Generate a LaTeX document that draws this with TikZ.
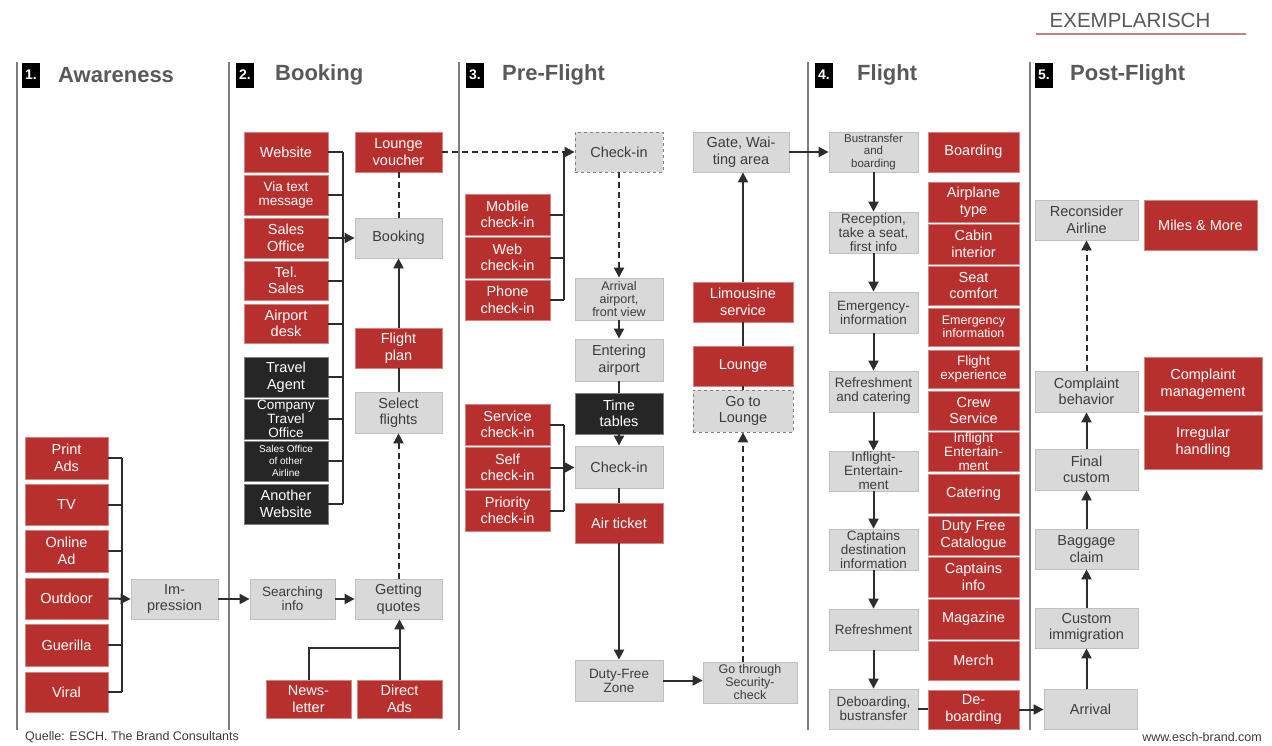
\documentclass[tikz,border=0pt]{standalone}
\usepackage{fontspec}
\setmainfont{Liberation Sans}
\usetikzlibrary{arrows.meta}
\definecolor{boxred}{RGB}{184,48,45}
\definecolor{boxgray}{RGB}{217,217,217}
\definecolor{boxgrayline}{RGB}{192,192,192}
\definecolor{boxdark}{RGB}{38,38,38}
\definecolor{txtgray}{RGB}{60,60,60}
\definecolor{hdrgray}{RGB}{89,89,89}
\definecolor{linecol}{RGB}{45,45,45}
\definecolor{sepcol}{RGB}{125,125,125}
\definecolor{ulred}{RGB}{190,130,130}
\newcommand\mybox[7]{\node[#1,minimum width=#4pt-#2pt,minimum height=#5pt-#3pt] (#6) at ({(#2+#4)/2},{(#3+#5)/2}) {#7};}
\tikzset{
 base/.style={inner sep=0pt, align=center, font=\fontsize{14.5}{16.5}\selectfont},
 gbox/.style={base, fill=boxgray, draw=boxgrayline, line width=0.8pt, text=txtgray},
 dgbox/.style={gbox, dashed, draw=gray},
 rbox/.style={base, fill=boxred, draw=boxred!60!white, line width=0.8pt, text=white},
 kbox/.style={base, fill=boxdark, draw=gray, line width=0.8pt, text=white},
 f13/.style={font=\fontsize{13.5}{14}\selectfont},
 f12/.style={font=\fontsize{12.5}{13}\selectfont},
 f11/.style={font=\fontsize{11.5}{12.5}\selectfont},
 f10/.style={font=\fontsize{10}{12}\selectfont},
 conn/.style={draw=linecol, line width=2pt},
 arr/.style={conn, -{Triangle[length=10pt,width=10pt]}},
 darr/.style={arr, dash pattern=on 6pt off 4pt},
 dline/.style={conn, dash pattern=on 6pt off 4pt},
 sep/.style={draw=sepcol, line width=1.6pt},
 numbox/.style={fill=black, text=white, font=\bfseries\fontsize{14}{14}\selectfont, minimum width=18pt, minimum height=25pt, inner sep=0pt},
 hdr/.style={text=hdrgray, font=\bfseries\fontsize{22}{22}\selectfont, anchor=west, inner sep=0pt},
 foot/.style={text=txtgray, font=\fontsize{12.5}{12.5}\selectfont, inner sep=0pt},
}
\begin{document}
\begin{tikzpicture}[x=1pt,y=-1pt]
\useasboundingbox[fill=white] (0,0) rectangle (1272,745);

% top label
\node[text=hdrgray, font=\fontsize{20.5}{20.5}\selectfont, inner sep=0pt] (exm) at (1130,20) {EXEMPLARISCH};
\coordinate (ulA) at (1036,34); \coordinate (ulB) at (1246,34);
\draw[ulred, line width=1.5pt] (ulA) -- (ulB);

% separators
\foreach \x in {17,229,459,808,1030} \draw[sep] (\x,62) -- (\x,730);

% headers
\node[numbox] (n1) at (31,75) {1.}; \node[hdr] (h1) at (58,75) {Awareness};
\node[numbox] (n2) at (245,75) {2.}; \node[hdr] (h2) at (275,75) {Booking};
\node[numbox] (n3) at (475,75) {3.}; \node[hdr] (h3) at (502,75) {Pre-Flight};
\node[numbox] (n4) at (824,75) {4.}; \node[hdr] (h4) at (857,75) {Flight};
\node[numbox] (n5) at (1044,75) {5.}; \node[hdr] (h5) at (1070,75) {Post-Flight};

% ---------- 1. Awareness
\mybox{rbox}{25}{437}{108}{479}{pa}{Print\\Ads}
\mybox{rbox}{25}{484}{108}{525}{tv}{TV}
\mybox{rbox}{25}{530}{108}{572}{oa}{Online\\Ad}
\mybox{rbox}{25}{578}{108}{619}{od}{Outdoor}
\mybox{rbox}{25}{624}{108}{666}{gu}{Guerilla}
\mybox{rbox}{25}{672}{108}{712}{vi}{Viral}
\mybox{gbox}{131}{579}{218}{619}{imp}{Im-\\pression}
\coordinate (awx) at (122,0);
\foreach \n in {pa,tv,oa,gu,vi} \draw[conn] (\n.east) -- (\n.east -| awx);
\draw[conn] (pa.east -| awx) -- (vi.east -| awx);
\draw[arr] (od.east) -- (imp.west);

% ---------- 2. Booking
\mybox{gbox,f13}{250}{579}{335}{619}{si}{Searching\\info}
\mybox{gbox}{355}{579}{442}{619}{gq}{Getting\\quotes}
\mybox{rbox}{266}{680}{351}{718}{nl}{News-\\letter}
\mybox{rbox}{357}{680}{442}{718}{da}{Direct\\Ads}
\mybox{gbox}{355}{392}{442}{433}{sf}{Select\\flights}
\mybox{rbox}{355}{328}{442}{368}{fp}{Flight\\plan}
\mybox{gbox}{355}{218}{442}{258}{bk}{Booking}
\mybox{rbox}{355}{132}{442}{172}{lv}{Lounge\\voucher}
\mybox{rbox}{244}{132}{328}{172}{ws}{Website}
\mybox{rbox,f13}{244}{175}{328}{215}{vt}{Via text\\message}
\mybox{rbox}{244}{218}{328}{258}{so}{Sales\\Office}
\mybox{rbox}{244}{261}{328}{300}{ts}{Tel.\\Sales}
\mybox{rbox}{244}{304}{328}{343}{ad}{Airport\\desk}
\mybox{kbox}{244}{357}{328}{397}{ta}{Travel\\Agent}
\mybox{kbox,f13}{244}{399}{328}{439}{ct}{Company\\Travel\\Office}
\mybox{kbox,f10}{244}{441}{328}{481}{sa}{Sales Office\\of other\\Airline}
\mybox{kbox}{244}{484}{328}{524}{aw}{Another\\Website}
\coordinate (bkx) at (343,0);
\foreach \n in {ws,vt,ts,ad,ta,ct,sa,aw} \draw[conn] (\n.east) -- (\n.east -| bkx);
\draw[conn] (ws.east -| bkx) -- (aw.east -| bkx);
\draw[arr] (so.east) -- (bk.west);
\draw[arr] (imp.east) -- (si.west);
\draw[arr] (si.east) -- (gq.west);
\coordinate (nj) at (399,648);
\draw[conn] (nl.north) |- (nj);
\draw[arr] (da.north) -- (da.north |- gq.south);
\draw[darr] (gq.north) -- (sf.south);
\draw[conn] (sf.north) -- (fp.south);
\draw[arr] (fp.north) -- (bk.south);
\draw[dline] (lv.south) -- (bk.north);

% ---------- 3. Pre-Flight
\mybox{dgbox}{575}{132}{663}{172}{ci1}{Check-in}
\mybox{rbox}{465}{194}{550}{235}{mc}{Mobile\\check-in}
\mybox{rbox}{465}{237}{550}{278}{wc}{Web\\check-in}
\mybox{rbox}{465}{280}{550}{320}{pc}{Phone\\check-in}
\mybox{gbox,f12}{575}{278}{663}{320}{aa}{Arrival\\airport,\\front view}
\mybox{gbox}{575}{339}{663}{381}{ea}{Entering\\airport}
\mybox{kbox}{575}{393}{663}{434}{tt}{Time\\tables}
\mybox{gbox}{575}{446}{663}{488}{ci2}{Check-in}
\mybox{rbox}{465}{404}{550}{445}{sc}{Service\\check-in}
\mybox{rbox}{465}{447}{550}{488}{slf}{Self\\check-in}
\mybox{rbox}{465}{490}{550}{531}{prc}{Priority\\check-in}
\mybox{rbox}{575}{503}{663}{543}{at}{Air ticket}
\mybox{gbox,f13}{575}{660}{663}{701}{df}{Duty-Free\\Zone}
\mybox{gbox,f12}{703}{662}{797}{703}{sec}{Go through\\Security-\\check}
\mybox{dgbox}{693}{390}{793}{432}{gl}{Go to\\Lounge}
\mybox{rbox}{693}{346}{793}{386}{lo}{Lounge}
\mybox{rbox}{693}{282}{793}{322}{lm}{Limousine\\service}
\mybox{gbox}{693}{132}{789}{172}{gw}{Gate, Wai-\\ting area}
\coordinate (pfx) at (564,0);
\draw[dline] (lv.east) -- (lv.east -| pfx);
\draw[arr] (ci1.west -| pfx) -- (ci1.west);
\foreach \n in {mc,wc,pc} \draw[conn] (\n.east) -- (\n.east -| pfx);
\draw[conn] (ci1.west -| pfx) -- (pc.east -| pfx);
\foreach \n in {sc,prc} \draw[conn] (\n.east) -- (\n.east -| pfx);
\draw[conn] (sc.east -| pfx) -- (prc.east -| pfx);
\draw[arr] (slf.east) -- (slf.east -| ci2.west);
\draw[darr] (ci1.south) -- (aa.north);
\draw[arr] (aa.south) -- (ea.north);
\draw[conn] (ea.south) -- (tt.north);
\draw[arr] (tt.south) -- (ci2.north);
\draw[conn] (ci2.south) -- (at.north);
\draw[arr] (at.south) -- (df.north);
\draw[arr] (df.east) -- (df.east -| sec.west);
\draw[darr] (sec.north -| gl.south) -- (gl.south);
\draw[conn] (gl.north) -- (lo.south);
\draw[conn] (lo.north) -- (lm.south);
\draw[arr] (lm.north) -- (lm.north |- gw.south);

% ---------- 4. Flight
\mybox{gbox,f11}{829}{132}{918}{172}{bt}{Bustransfer\\and\\boarding}
\mybox{gbox,f13}{829}{212}{918}{253}{rc}{Reception,\\take a seat,\\first info}
\mybox{gbox,f13}{829}{292}{918}{333}{ei}{Emergency-\\information}
\mybox{gbox,f13}{829}{371}{918}{412}{rfc}{Refreshment\\and catering}
\mybox{gbox,f13}{829}{451}{918}{491}{ie}{Inflight-\\Entertain-\\ment}
\mybox{gbox,f13}{829}{529}{918}{570}{cd}{Captains\\destination\\information}
\mybox{gbox,f13}{829}{609}{918}{650}{rf}{Refreshment}
\mybox{gbox,f13}{829}{689}{918}{729}{db}{Deboarding,\\bustransfer}
\draw[arr] (gw.east) -- (gw.east -| bt.west);
\draw[arr] (bt.south) -- (rc.north);
\draw[arr] (rc.south) -- (ei.north);
\draw[arr] (ei.south) -- (rfc.north);
\draw[arr] (rfc.south) -- (ie.north);
\draw[arr] (ie.south) -- (cd.north);
\draw[arr] (cd.south) -- (rf.north);
\draw[arr] (rf.south) -- (db.north);
\mybox{rbox}{928}{132}{1019}{172}{bo}{Boarding}
\mybox{rbox}{928}{182}{1019}{222}{apt}{Airplane\\type}
\mybox{rbox}{928}{224}{1019}{264}{cab}{Cabin\\interior}
\mybox{rbox}{928}{266}{1019}{305}{seat}{Seat\\comfort}
\mybox{rbox,f12}{928}{308}{1019}{346}{emi}{Emergency\\information}
\mybox{rbox,f13}{928}{350}{1019}{388}{fe}{Flight\\experience}
\mybox{rbox}{928}{391}{1019}{430}{cs}{Crew\\Service}
\mybox{rbox,f13}{928}{432}{1019}{471}{ife}{Inflight\\Entertain-\\ment}
\mybox{rbox}{928}{474}{1019}{513}{cat}{Catering}
\mybox{rbox}{928}{516}{1019}{555}{dfc}{Duty Free\\Catalogue}
\mybox{rbox}{928}{557}{1019}{597}{cpi}{Captains\\info}
\mybox{rbox}{928}{599}{1019}{639}{mag}{Magazine}
\mybox{rbox}{928}{641}{1019}{680}{mer}{Merch}
\mybox{rbox}{928}{690}{1019}{729}{deb}{De-\\boarding}
\draw[conn] (db.east) -- (db.east -| deb.west);

% ---------- 5. Post-Flight
\mybox{gbox}{1035}{200}{1138}{240}{rca}{Reconsider\\Airline}
\mybox{gbox}{1035}{371}{1138}{412}{cb}{Complaint\\behavior}
\mybox{gbox}{1035}{449}{1138}{490}{fc}{Final\\custom}
\mybox{gbox}{1035}{529}{1138}{569}{bc}{Baggage\\claim}
\mybox{gbox}{1035}{608}{1138}{648}{cim}{Custom\\immigration}
\mybox{gbox}{1044}{689}{1137}{729}{arv}{Arrival}
\mybox{rbox}{1144}{200}{1257}{250}{mm}{Miles \& More}
\mybox{rbox}{1144}{357}{1262}{411}{cm}{Complaint\\management}
\mybox{rbox}{1144}{415}{1262}{469}{ih}{Irregular\\handling}
\draw[arr] (deb.east) -- (deb.east -| arv.west);
\draw[arr] (arv.north -| cim.south) -- (cim.south);
\draw[arr] (cim.north) -- (bc.south);
\draw[arr] (bc.north) -- (fc.south);
\draw[arr] (fc.north) -- (cb.south);
\draw[darr] (cb.north) -- (rca.south);

% footer
\node[foot, anchor=west] (src) at (25,737) {Quelle: ESCH. The Brand Consultants};
\node[foot, anchor=east] (web) at (1262,737) {www.esch-brand.com};
\end{tikzpicture}
\end{document}
